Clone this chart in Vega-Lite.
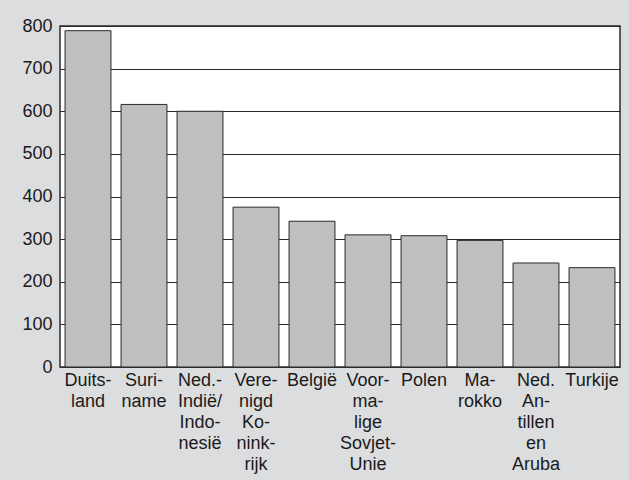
{
  "$schema": "https://vega.github.io/schema/vega-lite/v6.json",
  "autosize": {"type": "none"},
  "width": 560,
  "height": 341,
  "padding": {"left": 60, "top": 26, "right": 9, "bottom": 113},
  "background": "#dcdddf",
  "data": {
    "values": [
      {"land": "Duits-|land", "aantal": 789},
      {"land": "Suri-|name", "aantal": 616},
      {"land": "Ned.-|Indië/|Indo-|nesië", "aantal": 600},
      {"land": "Vere-|nigd|Ko-|nink-|rijk", "aantal": 375},
      {"land": "België", "aantal": 342},
      {"land": "Voor-|ma-|lige|Sovjet-|Unie", "aantal": 310},
      {"land": "Polen", "aantal": 308},
      {"land": "Ma-|rokko", "aantal": 297},
      {"land": "Ned.|An-|tillen|en|Aruba", "aantal": 244},
      {"land": "Turkije", "aantal": 233}
    ]
  },
  "mark": {"type": "bar", "fill": "#bfc0c2", "stroke": "#2a2a2a", "strokeWidth": 1},
  "encoding": {
    "x": {
      "field": "land",
      "type": "nominal",
      "sort": null,
      "scale": {"paddingInner": 0.18, "paddingOuter": 0.09},
      "axis": {
        "title": null,
        "labelAngle": 0,
        "labelExpr": "split(datum.value, '|')",
        "labelLineHeight": 21,
        "labelFontSize": 18,
        "labelFont": "Arial, 'Liberation Sans', Helvetica, sans-serif",
        "labelColor": "#1a1a1a",
        "labelPadding": 4,
        "ticks": false,
        "domain": false,
        "grid": false
      }
    },
    "y": {
      "field": "aantal",
      "type": "quantitative",
      "scale": {"domain": [0, 800], "nice": false},
      "axis": {
        "title": null,
        "values": [0, 100, 200, 300, 400, 500, 600, 700, 800],
        "labelFontSize": 18,
        "labelFont": "Arial, 'Liberation Sans', Helvetica, sans-serif",
        "labelColor": "#1a1a1a",
        "labelPadding": 8,
        "ticks": false,
        "domain": false,
        "grid": true,
        "gridColor": "#2a2a2a",
        "gridWidth": 1,
        "gridOpacity": 1
      }
    }
  },
  "config": {
    "view": {"fill": "white", "stroke": "#2a2a2a", "strokeWidth": 1.5}
  }
}
